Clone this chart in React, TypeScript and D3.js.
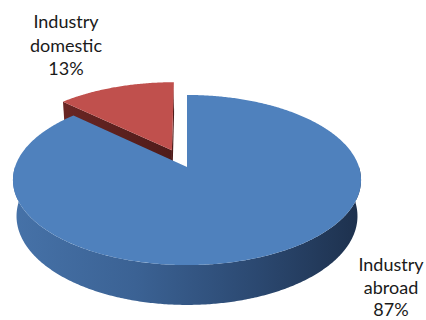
import React from "react";
import * as d3 from "d3";

const categories = ["Industry abroad", "Industry domestic"];
const values = [87, 13];
const explode = [0, 0.228];
const topColors = ["#4F81BD", "#C0504D"];

const W = 426;
const H = 320;
const cx = 187;
const cy = 167;
const sinP = 0.483;
const cosP = Math.sqrt(1 - sinP * sinP);
const D = 5.73;
const F = 985.6;
const T = 0.243;

function project(X: number, Y: number, Z: number): [number, number] {
  const depth = D - Y * sinP - Z * cosP;
  const yc = Y * cosP - Z * sinP;
  return [cx + (F * X) / depth, cy - (F * yc) / depth];
}

function pt(theta: number, r: number, Y: number, ox: number, oz: number): [number, number] {
  return project(ox + r * Math.sin(theta), Y, oz - r * Math.cos(theta));
}

function arcPts(a0: number, a1: number, Y: number, ox: number, oz: number) {
  const n = Math.max(2, Math.ceil(Math.abs(a1 - a0) / 0.01));
  const out: [number, number][] = [];
  for (let i = 0; i <= n; i++) {
    const a = a0 + ((a1 - a0) * i) / n;
    out.push(pt(a, 1, Y, ox, oz));
  }
  return out;
}

const line = d3.line<[number, number]>().x((d) => d[0]).y((d) => d[1]);

export default function App() {
  const pie = d3.pie<number>().sort(null).value((d) => d)(values);
  const total = d3.sum(values);

  const slices = pie.map((p, i) => {
    const mid = (p.startAngle + p.endAngle) / 2;
    const e = explode[i];
    const ox = e * Math.sin(mid);
    const oz = -e * Math.cos(mid);
    const a0 = p.startAngle;
    const a1 = p.endAngle;
    const c0 = project(ox, 0, oz);
    const top = line([c0, ...arcPts(a0, a1, 0, ox, oz)]) + "Z";
    const w0 = Math.max(a0, Math.PI / 2);
    const w1 = Math.min(a1, (3 * Math.PI) / 2);
    let wall: string | null = null;
    if (w1 > w0) {
      wall =
        line([...arcPts(w0, w1, 0, ox, oz), ...arcPts(w1, w0, -T, ox, oz)]) + "Z";
    }
    const radial: string[] = [];
    const addRadial = (a: number, sign: number) => {
      const nx = sign * Math.cos(a);
      const nz = sign * Math.sin(a);
      const px = ox + 0.5 * Math.sin(a);
      const pz = oz - 0.5 * Math.cos(a);
      const camZ = D * cosP;
      const dot = (0 - px) * nx + (camZ - pz) * nz;
      if (dot > 0.05) {
        const pts: [number, number][] = [
          project(ox, 0, oz),
          pt(a, 1, 0, ox, oz),
          pt(a, 1, -T, ox, oz),
          project(ox, -T, oz),
        ];
        radial.push(line(pts) + "Z");
      }
    };
    addRadial(a0, -1);
    addRadial(a1, 1);
    return { i, top, wall, radial, p };
  });

  const order = [1, 0];

  const labelStyle = {
    fontFamily: "Lato, 'Liberation Sans', sans-serif",
    fontSize: 18,
    fill: "#1a1a1a",
  } as const;

  const pct = (v: number) => `${Math.round((v / total) * 100)}%`;

  return (
    <svg width={W} height={H} style={{ position: "absolute", left: 0, top: 0 }}>
      <defs>
        <linearGradient id="blueWall" gradientUnits="userSpaceOnUse" x1={13} y1={0} x2={363} y2={0}>
          <stop offset="0" stopColor="#4672a8" />
          <stop offset="0.35" stopColor="#3b6294" />
          <stop offset="0.7" stopColor="#2b4870" />
          <stop offset="1" stopColor="#1d304c" />
        </linearGradient>
        <linearGradient id="redWall" gradientUnits="userSpaceOnUse" x1={60} y1={0} x2={175} y2={0}>
          <stop offset="0" stopColor="#6a2624" />
          <stop offset="1" stopColor="#4e1b1a" />
        </linearGradient>
      </defs>
      {order.map((k) => {
        const s = slices[k];
        return (
          <g key={categories[k]}>
            {s.radial.map((d, j) => (
              <path key={j} d={d} fill={k === 0 ? "#2b4870" : "url(#redWall)"} />
            ))}
            {s.wall && <path d={s.wall} fill={k === 0 ? "url(#blueWall)" : "#7a2c2a"} />}
            <path d={s.top} fill={topColors[k]} />
          </g>
        );
      })}
      <text textAnchor="middle" style={labelStyle}>
        <tspan x={66} y={28}>Industry</tspan>
        <tspan x={66} y={52}>domestic</tspan>
        <tspan x={66} y={75}>{pct(values[1])}</tspan>
      </text>
      <text textAnchor="middle" style={labelStyle}>
        <tspan x={391} y={271}>Industry</tspan>
        <tspan x={391} y={294}>abroad</tspan>
        <tspan x={391} y={316}>{pct(values[0])}</tspan>
      </text>
    </svg>
  );
}
